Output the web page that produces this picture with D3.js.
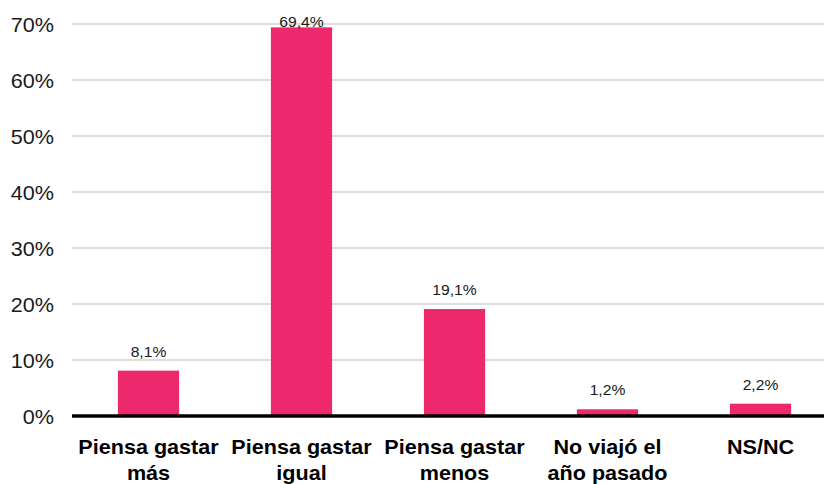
<!DOCTYPE html>
<html lang="es">
<head>
<meta charset="UTF-8">
<title>Gasto</title>
<script src="https://d3js.org/d3.v7.min.js"></script>
<style>
  body { margin: 0; background: #fff; }
  svg { display: block; font-family: "Liberation Sans", Arial, sans-serif; }
</style>
</head>
<body>
<svg width="824" height="484"></svg>
<script>
  // data
  const categories = [
    ["Piensa gastar", "más"],
    ["Piensa gastar", "igual"],
    ["Piensa gastar", "menos"],
    ["No viajó el", "año pasado"],
    ["NS/NC"]
  ];
  const values = [8.1, 69.4, 19.1, 1.2, 2.2];
  const yTicks = [0, 10, 20, 30, 40, 50, 60, 70];

  const svg = d3.select("svg");
  const stretch = 1.08; // text in the reference is slightly wide

  const x = d3.scaleBand()
      .domain(d3.range(values.length))
      .range([72, 837])
      .paddingInner(0.6)
      .paddingOuter(0.3);

  const y = d3.scaleLinear().domain([0, 70]).range([416, 24]);

  // gridlines
  svg.append("g")
    .selectAll("line")
    .data(yTicks.filter(d => d > 0))
    .join("line")
      .attr("x1", 72).attr("x2", 824)
      .attr("y1", d => y(d)).attr("y2", d => y(d))
      .attr("stroke", "#dedede")
      .attr("stroke-width", 2);

  // y tick labels
  svg.append("g")
    .selectAll("text")
    .data(yTicks)
    .join("text")
      .attr("transform", d => `translate(54,${y(d) + 7.5}) scale(${stretch},1)`)
      .attr("text-anchor", "end")
      .attr("font-size", 20)
      .attr("fill", "#1a1a1a")
      .text(d => d + "%");

  // bars
  svg.append("g")
    .selectAll("rect")
    .data(values)
    .join("rect")
      .attr("x", (d, i) => x(i))
      .attr("y", d => y(d))
      .attr("width", x.bandwidth())
      .attr("height", d => y(0) - y(d))
      .attr("fill", "#ee286c");

  // value labels
  svg.append("g")
    .selectAll("text")
    .data(values)
    .join("text")
      .attr("transform", (d, i) =>
        `translate(${x(i) + x.bandwidth() / 2},${Math.max(y(d) - 14, 27)}) scale(${stretch},1)`)
      .attr("text-anchor", "middle")
      .attr("font-size", 14.5)
      .attr("fill", "#1a1a1a")
      .text(d => d.toFixed(1).replace(".", ",") + "%");

  // baseline
  svg.append("line")
    .attr("x1", 72).attr("x2", 824)
    .attr("y1", y(0)).attr("y2", y(0))
    .attr("stroke", "#000")
    .attr("stroke-width", 3.5);

  // category labels
  const cat = svg.append("g")
    .selectAll("text")
    .data(categories)
    .join("text")
      .attr("transform", (d, i) =>
        `translate(${x(i) + x.bandwidth() / 2},454) scale(${stretch},1)`)
      .attr("text-anchor", "middle")
      .attr("font-size", 20)
      .attr("font-weight", "bold")
      .attr("fill", "#000");

  cat.selectAll("tspan")
    .data(d => d)
    .join("tspan")
      .attr("x", 0)
      .attr("dy", (d, i) => i === 0 ? 0 : 26)
      .text(d => d);
</script>
</body>
</html>
